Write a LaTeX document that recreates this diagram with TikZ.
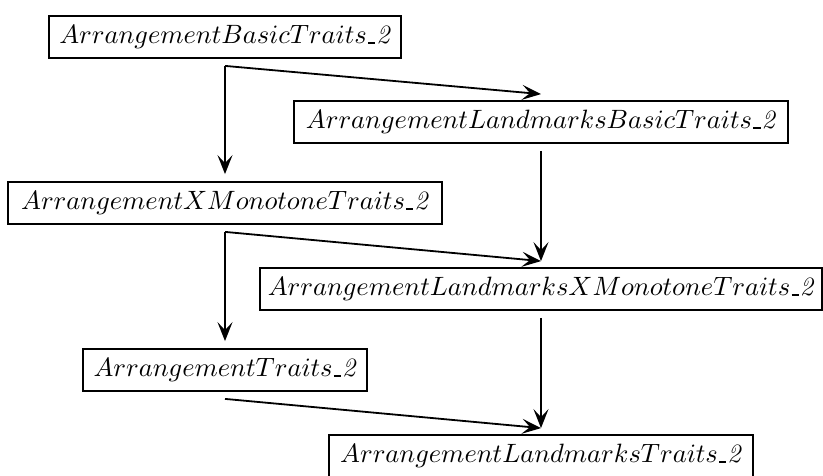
\documentclass[tikz,border=0pt]{standalone}
\DeclareFontShape{OML}{cmm}{m}{it}{<->cmmi10}{}
\usetikzlibrary{arrows.meta}
\newcommand{\usc}{\kern0.04em\rule[-0.03em]{0.27em}{0.08em}\kern0.04em}
\begin{document}
\begin{tikzpicture}[x=1pt,y=-1pt,
  cls/.style={draw,line width=1.8pt,minimum height=42pt,inner sep=0pt,
    font=\fontsize{26.5}{32}\selectfont},
  dep/.style={line width=1.8pt,-{Stealth[length=19pt,width=15pt,inset=8pt]}}]
\useasboundingbox (0,0) rectangle (823,476);
\node[cls,minimum width=352pt] (bt) at (225,37) {$ArrangementBasicTraits$\usc\textit{2}};
\node[cls,minimum width=494pt] (lbt) at (541,122) {$ArrangementLandmarksBasicTraits$\usc\textit{2}};
\node[cls,minimum width=434pt] (xt) at (225,203) {$ArrangementXMonotoneTraits$\usc\textit{2}};
\node[cls,minimum width=562pt] (lxt) at (541,289) {$ArrangementLandmarksXMonotoneTraits$\usc\textit{2}};
\node[cls,minimum width=284pt] (t) at (225,370) {$ArrangementTraits$\usc\textit{2}};
\node[cls,minimum width=424pt] (lt) at (541,456) {$ArrangementLandmarksTraits$\usc\textit{2}};
\draw[dep] ([yshift=-7pt]bt.south) -- ([yshift=7pt]xt.north);
\draw[dep] ([yshift=-7pt]bt.south) -- ([yshift=6pt]lbt.north);
\draw[dep] ([yshift=-7pt]lbt.south) -- ([yshift=6pt]lxt.north);
\draw[dep] ([yshift=-7pt]xt.south) -- ([yshift=7pt]t.north);
\draw[dep] ([yshift=-7pt]xt.south) -- ([yshift=6pt]lxt.north);
\draw[dep] ([yshift=-7pt]lxt.south) -- ([yshift=6pt]lt.north);
\draw[dep] ([yshift=-7pt]t.south) -- ([yshift=6pt]lt.north);
\end{tikzpicture}
\end{document}
